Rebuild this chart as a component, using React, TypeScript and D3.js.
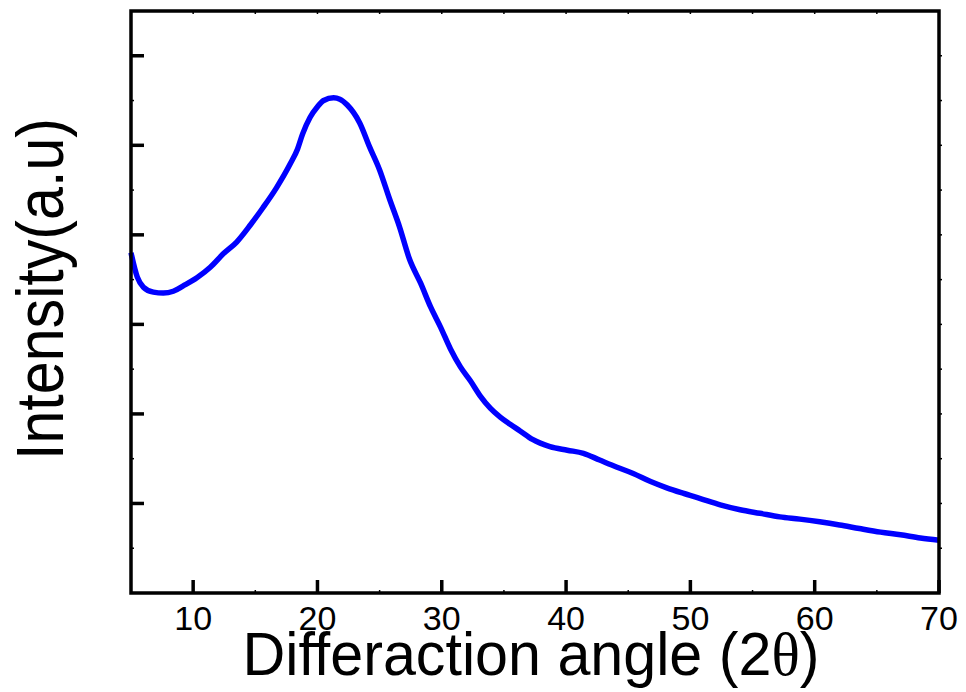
import React from 'react';
import * as d3 from 'd3';

const width = 966;
const height = 692;
const margin = { top: 11, right: 27, bottom: 99, left: 131 };

// 2θ positions
const angles = [
  5.0, 5.5, 6.0, 6.8, 7.6, 8.4, 9.2, 10.3, 11.4, 12.4, 13.5, 14.6, 15.6, 16.7,
  17.8, 18.4, 18.8, 19.4, 20.0, 20.5, 21.3, 21.8, 22.4, 23.4, 24.2, 25.0, 25.8,
  26.6, 27.4, 28.3, 29.1, 29.9, 30.7, 31.5, 32.3, 33.1, 33.9, 34.7, 35.5, 36.3,
  37.3, 38.7, 40.1, 41.4, 42.7, 44.1, 45.4, 46.8, 48.1, 49.4, 50.8, 52.4, 54.0,
  55.6, 57.2, 58.8, 60.4, 62.0, 63.6, 65.3, 66.9, 68.5, 70.0
];

// intensity (arbitrary units)
const intensity = [
  760, 706, 683, 672, 670, 674, 686, 704, 728, 757, 784, 822, 860, 905,
  958, 992, 1025, 1062, 1086, 1100, 1106, 1103, 1090, 1050, 996, 945, 880,
  818, 746, 692, 639, 594, 545, 505, 474, 440, 413, 393, 377, 362,
  343, 327, 319, 312, 297, 281, 267, 249, 235, 223, 211, 197, 186,
  178, 170, 165, 159, 152, 144, 136, 130, 123, 118
];

const xMajorTicks = [10, 20, 30, 40, 50, 60, 70];
const xMinorTicks = [5, 15, 25, 35, 45, 55, 65];
const yMajorTicks = [200, 400, 600, 800, 1000, 1200];
const yMinorTicks = [100, 300, 500, 700, 900, 1100];

const App = () => {
  const x = d3.scaleLinear()
    .domain([5, 70])
    .range([margin.left, width - margin.right]);

  const y = d3.scaleLinear()
    .domain([0, 1300])
    .range([height - margin.bottom, margin.top]);

  const data = angles.map((a, i) => ({ a, v: intensity[i] }));

  const line = d3.line<{ a: number; v: number }>()
    .x(d => x(d.a))
    .y(d => y(d.v))
    .curve(d3.curveMonotoneX);

  const x0 = margin.left;
  const x1 = width - margin.right;
  const y0 = height - margin.bottom;
  const y1 = margin.top;
  const font = '"Liberation Sans", Arial, sans-serif';

  return (
    <svg
      width={width}
      height={height}
      style={{ position: 'absolute', left: 0, top: 0, background: '#fff' }}
    >
      {/* trace */}
      <path
        d={line(data) || ''}
        fill="none"
        stroke="#0000ff"
        strokeWidth={5.5}
        strokeLinejoin="round"
      />

      {/* frame */}
      <rect
        x={x0}
        y={y1}
        width={x1 - x0}
        height={y0 - y1}
        fill="none"
        stroke="#000"
        strokeWidth={3.5}
      />

      {/* bottom ticks */}
      {xMajorTicks.map(t => (
        <line key={'xb' + t} x1={x(t)} x2={x(t)} y1={y0} y2={y0 - 13} stroke="#000" strokeWidth={3.5} />
      ))}
      {xMinorTicks.map(t => (
        <line key={'xm' + t} x1={x(t)} x2={x(t)} y1={y0} y2={y0 - 3} stroke="#000" strokeWidth={1.5} />
      ))}
      {/* top mirror ticks */}
      {[...xMajorTicks, ...xMinorTicks].map(t => (
        <line key={'xt' + t} x1={x(t)} x2={x(t)} y1={y1} y2={y1 + 3} stroke="#000" strokeWidth={1.5} />
      ))}

      {/* left ticks */}
      {yMajorTicks.map(t => (
        <line key={'yl' + t} x1={x0} x2={x0 + 13} y1={y(t)} y2={y(t)} stroke="#000" strokeWidth={3.5} />
      ))}
      {yMinorTicks.map(t => (
        <line key={'ym' + t} x1={x0} x2={x0 + 3} y1={y(t)} y2={y(t)} stroke="#000" strokeWidth={1.5} />
      ))}
      {/* right mirror ticks */}
      {[...yMajorTicks, ...yMinorTicks].map(t => (
        <line key={'yr' + t} x1={x1} x2={x1 + 3} y1={y(t)} y2={y(t)} stroke="#000" strokeWidth={1.5} />
      ))}

      {/* x tick labels */}
      {xMajorTicks.map(t => (
        <text
          key={'xl' + t}
          x={x(t)}
          y={630}
          fontSize={34}
          fontFamily={font}
          textAnchor="middle"
          fill="#000"
        >
          {t}
        </text>
      ))}

      {/* x title */}
      <text
        x={531}
        y={675}
        fontSize={62}
        fontFamily={font}
        textAnchor="middle"
        textLength={577}
        lengthAdjust="spacingAndGlyphs"
        fill="#000"
      >
        Differaction angle (2
        <tspan fontFamily='"Liberation Serif", "Times New Roman", serif'>θ</tspan>)
      </text>

      {/* y title */}
      <text
        transform="translate(63,289) rotate(-90)"
        fontSize={66}
        fontFamily={font}
        textAnchor="middle"
        textLength={342}
        lengthAdjust="spacingAndGlyphs"
        fill="#000"
      >
        Intensity(a.u)
      </text>
    </svg>
  );
};

export default App;
